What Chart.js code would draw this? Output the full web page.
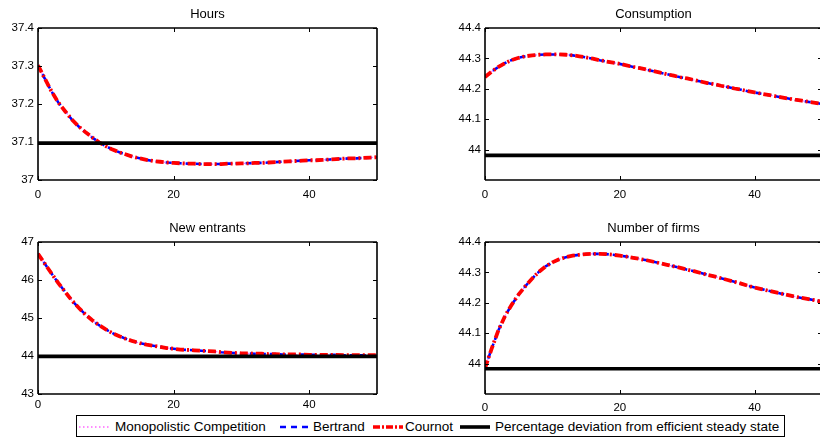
<!DOCTYPE html>
<html>
<head>
<meta charset="utf-8">
<script src="https://cdn.jsdelivr.net/npm/chart.js@4.4.1/dist/chart.umd.min.js"></script>
<style>
  html, body { margin:0; padding:0; width:820px; height:438px; overflow:hidden; background:#fff; }
  canvas { position:absolute; }
  #legend { position:absolute; left:76px; top:415px; width:707px; height:20px; border:1.5px solid #000; background:#fff;
            font-family:"Liberation Sans", Arial, sans-serif; font-size:13.5px; color:#000; }
  #legend span { position:absolute; top:3px; white-space:nowrap; line-height:16px; }
  #legend svg { position:absolute; top:0; }
</style>
</head>
<body>
<canvas id="c0" width="400" height="202" style="left:0px;top:0px;"></canvas>
<canvas id="c1" width="420" height="202" style="left:410px;top:0px;"></canvas>
<canvas id="c2" width="400" height="202" style="left:0px;top:214px;"></canvas>
<canvas id="c3" width="420" height="202" style="left:410px;top:214px;"></canvas>
<div id="legend"></div>
<script>
// ---------------- data ----------------
const periods = [0,1,2,3,4,5,6,7,8,9,10,11,12,13,14,15,16,17,18,19,20,21,22,23,24,25,26,27,28,29,30,
  31,32,33,34,35,36,37,38,39,40,41,42,43,44,45,46,47,48,49,50];

const hours = [37.302,37.267,37.233,37.204,37.181,37.159,37.141,37.126,37.112,37.099,37.089,37.080,37.073,
  37.067,37.061,37.057,37.053,37.050,37.048,37.046,37.045,37.044,37.043,37.043,37.042,37.042,37.042,37.042,
  37.043,37.043,37.044,37.044,37.045,37.045,37.046,37.047,37.048,37.049,37.050,37.051,37.052,37.052,37.053,
  37.054,37.055,37.056,37.057,37.057,37.058,37.059,37.060];

const consumption = [44.239,44.257,44.272,44.285,44.295,44.302,44.307,44.310,44.312,44.313,44.313,44.313,
  44.312,44.310,44.307,44.303,44.299,44.294,44.290,44.286,44.282,44.277,44.272,44.268,44.263,44.258,44.253,
  44.248,44.243,44.238,44.234,44.229,44.224,44.219,44.215,44.210,44.206,44.201,44.197,44.192,44.188,44.184,
  44.180,44.176,44.172,44.168,44.164,44.161,44.157,44.154,44.150];

const newEntrants = [46.69,46.43,46.17,45.92,45.69,45.46,45.27,45.09,44.94,44.81,44.70,44.60,44.52,44.45,
  44.39,44.34,44.30,44.27,44.24,44.21,44.19,44.17,44.16,44.15,44.14,44.13,44.12,44.10,44.09,44.08,44.07,
  44.07,44.06,44.06,44.05,44.05,44.04,44.04,44.04,44.04,44.03,44.03,44.03,44.03,44.03,44.02,44.02,44.02,
  44.02,44.02,44.02];

const numberOfFirms = [43.985,44.050,44.110,44.158,44.195,44.228,44.255,44.280,44.302,44.320,44.333,44.343,
  44.350,44.355,44.358,44.360,44.361,44.361,44.360,44.358,44.355,44.352,44.348,44.344,44.340,44.335,44.330,
  44.325,44.320,44.315,44.309,44.304,44.298,44.292,44.287,44.281,44.275,44.269,44.263,44.256,44.250,44.245,
  44.240,44.235,44.230,44.225,44.220,44.216,44.212,44.208,44.204];

const steadyStateLevels = [37.097, 43.981, 43.99, 43.983];

const panelTitles = ['Hours', 'Consumption', 'New entrants', 'Number of firms'];
const seriesNames = ['Monopolistic Competition', 'Bertrand', 'Cournot'];
const steadyStateName = 'Percentage deviation from efficient steady state';

const xTickValues = [0, 20, 40];
const yTicksHours = [37, 37.1, 37.2, 37.3, 37.4];
const yTicksConsumption = [44, 44.1, 44.2, 44.3, 44.4];
const yTicksNewEntrants = [43, 44, 45, 46, 47];
const yTicksFirms = [44, 44.1, 44.2, 44.3, 44.4];

const yRanges = [[37, 37.4], [43.9, 44.4], [43, 47], [43.9, 44.4]];

// ---------------- styling ----------------
const FONT = '"Liberation Sans", Arial, sans-serif';
const seriesStyles = [
  { color: '#ff66ff', width: 1.2, dash: [1.5, 2.5], order: 3 },
  { color: '#0000ff', width: 2.6, dash: [6, 4], order: 2 },
  { color: '#ff0000', width: 3.8, dash: [8, 3, 2, 3], order: 1 }
];

const boxPlugin = {
  id: 'matlabBox',
  afterDatasetsDraw(chart) {
    const { ctx, chartArea: a, scales } = chart;
    ctx.save();
    ctx.strokeStyle = '#000';
    ctx.lineWidth = 1.6;
    ctx.beginPath();
    ctx.moveTo(a.left, a.bottom); ctx.lineTo(a.right, a.bottom);
    ctx.moveTo(a.left, a.bottom); ctx.lineTo(a.left, a.top);
    ctx.moveTo(a.left, a.top); ctx.lineTo(a.right, a.top);
    ctx.moveTo(a.right, a.top); ctx.lineTo(a.right, a.bottom);
    ctx.stroke();
    const L = 4;
    ctx.lineWidth = 1;
    ctx.beginPath();
    scales.x.ticks.forEach(t => {
      const px = Math.round(scales.x.getPixelForValue(t.value)) + 0.5;
      ctx.moveTo(px, a.bottom); ctx.lineTo(px, a.bottom - L);
      ctx.moveTo(px, a.top); ctx.lineTo(px, a.top + L);
    });
    scales.y.ticks.forEach(t => {
      const py = Math.round(scales.y.getPixelForValue(t.value)) + 0.5;
      ctx.moveTo(a.left, py); ctx.lineTo(a.left + L, py);
      ctx.moveTo(a.right, py); ctx.lineTo(a.right - L, py);
    });
    ctx.stroke();
    ctx.restore();
  }
};

function fmt(v) { return String(Math.round(v * 10) / 10); }

function makePanel(canvasId, idx, values, yTicks, opts) {
  const pts = periods.map((p, i) => ({ x: p, y: values[i] }));
  const ss = steadyStateLevels[idx];
  const datasets = seriesNames.map((name, k) => ({
    label: name,
    data: pts,
    borderColor: seriesStyles[k].color,
    borderWidth: seriesStyles[k].width,
    borderDash: seriesStyles[k].dash,
    order: seriesStyles[k].order,
    pointRadius: 0,
    tension: 0,
    fill: false
  }));
  datasets.push({
    label: steadyStateName,
    data: [{ x: periods[0], y: ss }, { x: periods[periods.length - 1], y: ss }],
    borderColor: '#000',
    borderWidth: 3.6,
    order: 0,
    pointRadius: 0,
    fill: false
  });
  new Chart(document.getElementById(canvasId), {
    type: 'line',
    data: { datasets },
    options: {
      responsive: false,
      animation: false,
      layout: { padding: { left: 0, right: opts.padRight, top: 0, bottom: 0 } },
      plugins: {
        legend: { display: false },
        tooltip: { enabled: false },
        title: {
          display: true, text: panelTitles[idx], fullSize: false,
          color: '#000', font: { family: FONT, size: 13, weight: 'normal', lineHeight: 1.2 },
          padding: { top: 7, bottom: 5.4 }
        }
      },
      scales: {
        x: {
          type: 'linear', min: 0, max: 50,
          grid: { display: false, drawTicks: false, tickLength: 0 }, border: { display: false },
          afterBuildTicks: s => { s.ticks = xTickValues.map(v => ({ value: v })); },
          afterFit: s => { s.height = 22; },
          ticks: { color: '#000', font: { family: FONT, size: 11.5 }, padding: opts.xPad,
                   callback: v => fmt(v), maxRotation: 0, autoSkip: false }
        },
        y: {
          type: 'linear', min: yRanges[idx][0], max: yRanges[idx][1],
          grid: { display: false, drawTicks: false, tickLength: 0 }, border: { display: false },
          afterBuildTicks: s => { s.ticks = yTicks.map(v => ({ value: v })); },
          afterFit: s => { s.width = opts.yWidth; },
          ticks: { color: '#000', font: { family: FONT, size: 11.5 }, padding: 4,
                   callback: v => fmt(v), autoSkip: false }
        }
      }
    },
    plugins: [boxPlugin]
  });
}

makePanel('c0', 0, hours, yTicksHours, { padRight: 23, yWidth: 38, xPad: 7.5 });
makePanel('c1', 1, consumption, yTicksConsumption, { padRight: 8, yWidth: 75, xPad: 7.5 });
makePanel('c2', 2, newEntrants, yTicksNewEntrants, { padRight: 23, yWidth: 38, xPad: 4 });
makePanel('c3', 3, numberOfFirms, yTicksFirms, { padRight: 8, yWidth: 75, xPad: 7 });

// ---------------- legend (HTML) ----------------
const legendItems = [
  { name: seriesNames[0], sampleX: 2, textX: 38, svg: '<line x1="0" y1="11" x2="32" y2="11" stroke="#ff66ff" stroke-width="1.5" stroke-dasharray="1.5 2.5"/>' },
  { name: seriesNames[1], sampleX: 203, textX: 236, svg: '<line x1="0" y1="11" x2="30" y2="11" stroke="#0000ff" stroke-width="2.6" stroke-dasharray="6 5"/>' },
  { name: seriesNames[2], sampleX: 296, textX: 328, svg: '<line x1="0" y1="11" x2="30" y2="11" stroke="#ff0000" stroke-width="3.6" stroke-dasharray="7 2 2 2"/>' },
  { name: steadyStateName, sampleX: 383, textX: 418, svg: '<line x1="0" y1="11" x2="30" y2="11" stroke="#000" stroke-width="3.6"/>' }
];
const lg = document.getElementById('legend');
legendItems.forEach(it => {
  const s = document.createElementNS('http://www.w3.org/2000/svg', 'svg');
  s.setAttribute('width', '34'); s.setAttribute('height', '21');
  s.style.left = it.sampleX + 'px';
  s.innerHTML = it.svg;
  lg.appendChild(s);
  const t = document.createElement('span');
  t.textContent = it.name;
  t.style.left = it.textX + 'px';
  lg.appendChild(t);
});
</script>
</body>
</html>
